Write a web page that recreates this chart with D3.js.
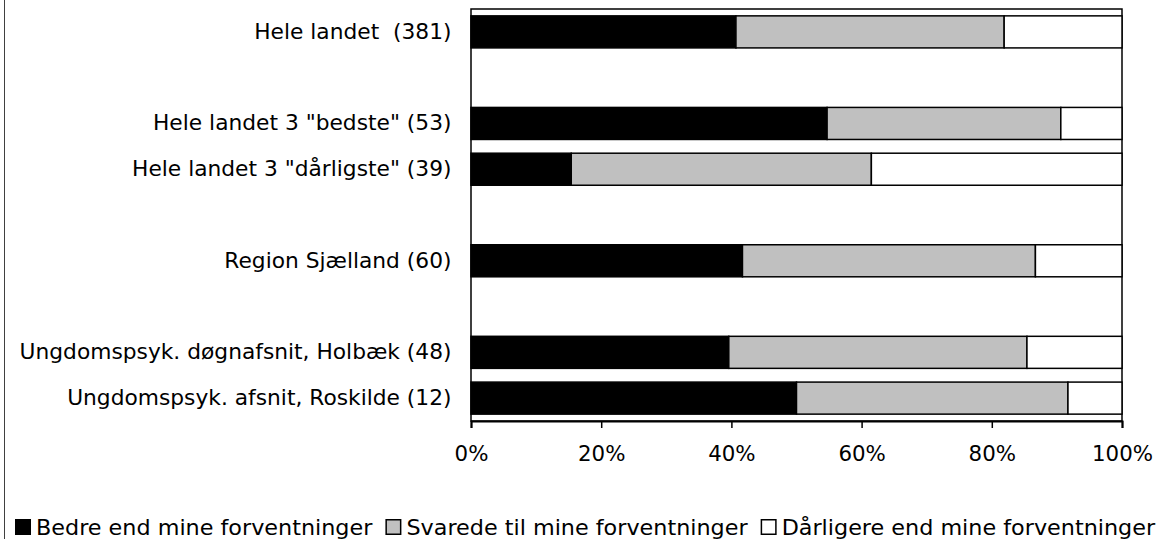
<!DOCTYPE html>
<html>
<head>
<meta charset="utf-8">
<script src="https://cdn.jsdelivr.net/npm/d3@7/dist/d3.min.js"></script>
<style>
  html, body { margin: 0; padding: 0; background: #fff; }
  svg { display: block; }
  text { font-family: "DejaVu Sans", Verdana, sans-serif; fill: #000; white-space: pre; }
</style>
</head>
<body>
<svg id="chart" width="1157" height="539"></svg>
<script>
// ---- data ----
const categories = [
  "Hele landet  (381)",
  "",
  "Hele landet 3 \"bedste\" (53)",
  "Hele landet 3 \"dårligste\" (39)",
  "",
  "Region Sjælland (60)",
  "",
  "Ungdomspsyk. døgnafsnit, Holbæk (48)",
  "Ungdomspsyk. afsnit, Roskilde (12)"
];
const seriesNames = ["Bedre end mine forventninger", "Svarede til mine forventninger", "Dårligere end mine forventninger"];
const bedre    = [40.7, null, 54.7, 15.4, null, 41.7, null, 39.6, 50.0];
const svarede  = [41.2, null, 35.9, 46.1, null, 45.0, null, 45.8, 41.7];
const darligere= [18.1, null,  9.4, 38.5, null, 13.3, null, 14.6,  8.3];
const xTicks = [0, 20, 40, 60, 80, 100];
const colors = ["#000000", "#c0c0c0", "#ffffff"];

// ---- layout ----
const svg = d3.select("#chart");
const pLeft = 471, pRight = 1122, pTop = 9, pBottom = 421;
const FS = 21.33;
const LABEL_STRETCH = 1.02;
const LEGEND_STRETCH = 1.045;

const x = d3.scaleLinear().domain([0, 100]).range([pLeft, pRight]);
const y = d3.scaleBand().domain(d3.range(categories.length)).range([pTop, pBottom])
  .paddingInner(0.3).paddingOuter(0.15);

// outer left border of chart area
svg.append("line").attr("x1", 4.5).attr("x2", 4.5).attr("y1", 0).attr("y2", 539)
  .attr("stroke", "#404040").attr("stroke-width", 1);

// plot frame
svg.append("rect").attr("x", pLeft).attr("y", pTop)
  .attr("width", pRight - pLeft).attr("height", pBottom - pTop)
  .attr("fill", "#fff").attr("stroke", "#000").attr("stroke-width", 1.5);

// stacked bars
const series = [bedre, svarede, darligere];
const segs = [];
categories.forEach((c, i) => {
  if (bedre[i] == null) return;
  let acc = 0;
  series.forEach((s, k) => {
    segs.push({ i, k, x0: acc, x1: acc + s[i] });
    acc += s[i];
  });
});
svg.append("g").selectAll("rect").data(segs).join("rect")
  .attr("x", d => x(d.x0))
  .attr("y", d => y(d.i))
  .attr("width", d => x(Math.min(100, d.x1)) - x(d.x0))
  .attr("height", y.bandwidth())
  .attr("fill", d => colors[d.k])
  .attr("stroke", "#000")
  .attr("stroke-width", 1.5);

// x axis
const xAxis = svg.append("g").attr("transform", `translate(0,${pBottom})`)
  .call(d3.axisBottom(x).tickValues(xTicks).tickFormat(d => d + "%").tickSize(7).tickPadding(18));
xAxis.select(".domain").attr("stroke", "#000").attr("stroke-width", 2);
xAxis.selectAll(".tick line").attr("stroke", "#000").attr("stroke-width", 1.5);
xAxis.selectAll(".tick text").attr("font-size", FS).attr("font-family", "DejaVu Sans, sans-serif").attr("fill", "#000");

// y axis labels
const yAxis = svg.append("g").attr("transform", `translate(${pLeft},0)`)
  .call(d3.axisLeft(y).tickFormat(i => categories[i]).tickSize(0).tickPadding(19.5));
yAxis.select(".domain").remove();
yAxis.selectAll(".tick text").attr("font-size", FS).attr("font-family", "DejaVu Sans, sans-serif").attr("fill", "#000")
  .each(function() {
    const w = this.getComputedTextLength();
    if (w > 0) d3.select(this).attr("textLength", w * LABEL_STRETCH).attr("lengthAdjust", "spacingAndGlyphs");
  });

// legend
const lg = svg.append("g");
const legBase = 535;
let cx = 15;
seriesNames.forEach((name, k) => {
  lg.append("rect").attr("x", cx + 0.75).attr("y", legBase - 15.25).attr("width", 14.5).attr("height", 14.5)
    .attr("fill", colors[k]).attr("stroke", "#000").attr("stroke-width", 1.5);
  const t = lg.append("text").attr("x", cx + 21).attr("y", legBase)
    .attr("font-size", FS).text(name);
  const w = t.node().getComputedTextLength() * LEGEND_STRETCH;
  t.attr("textLength", w).attr("lengthAdjust", "spacingAndGlyphs");
  cx += 21 + w + 13;
});
</script>
</body>
</html>
